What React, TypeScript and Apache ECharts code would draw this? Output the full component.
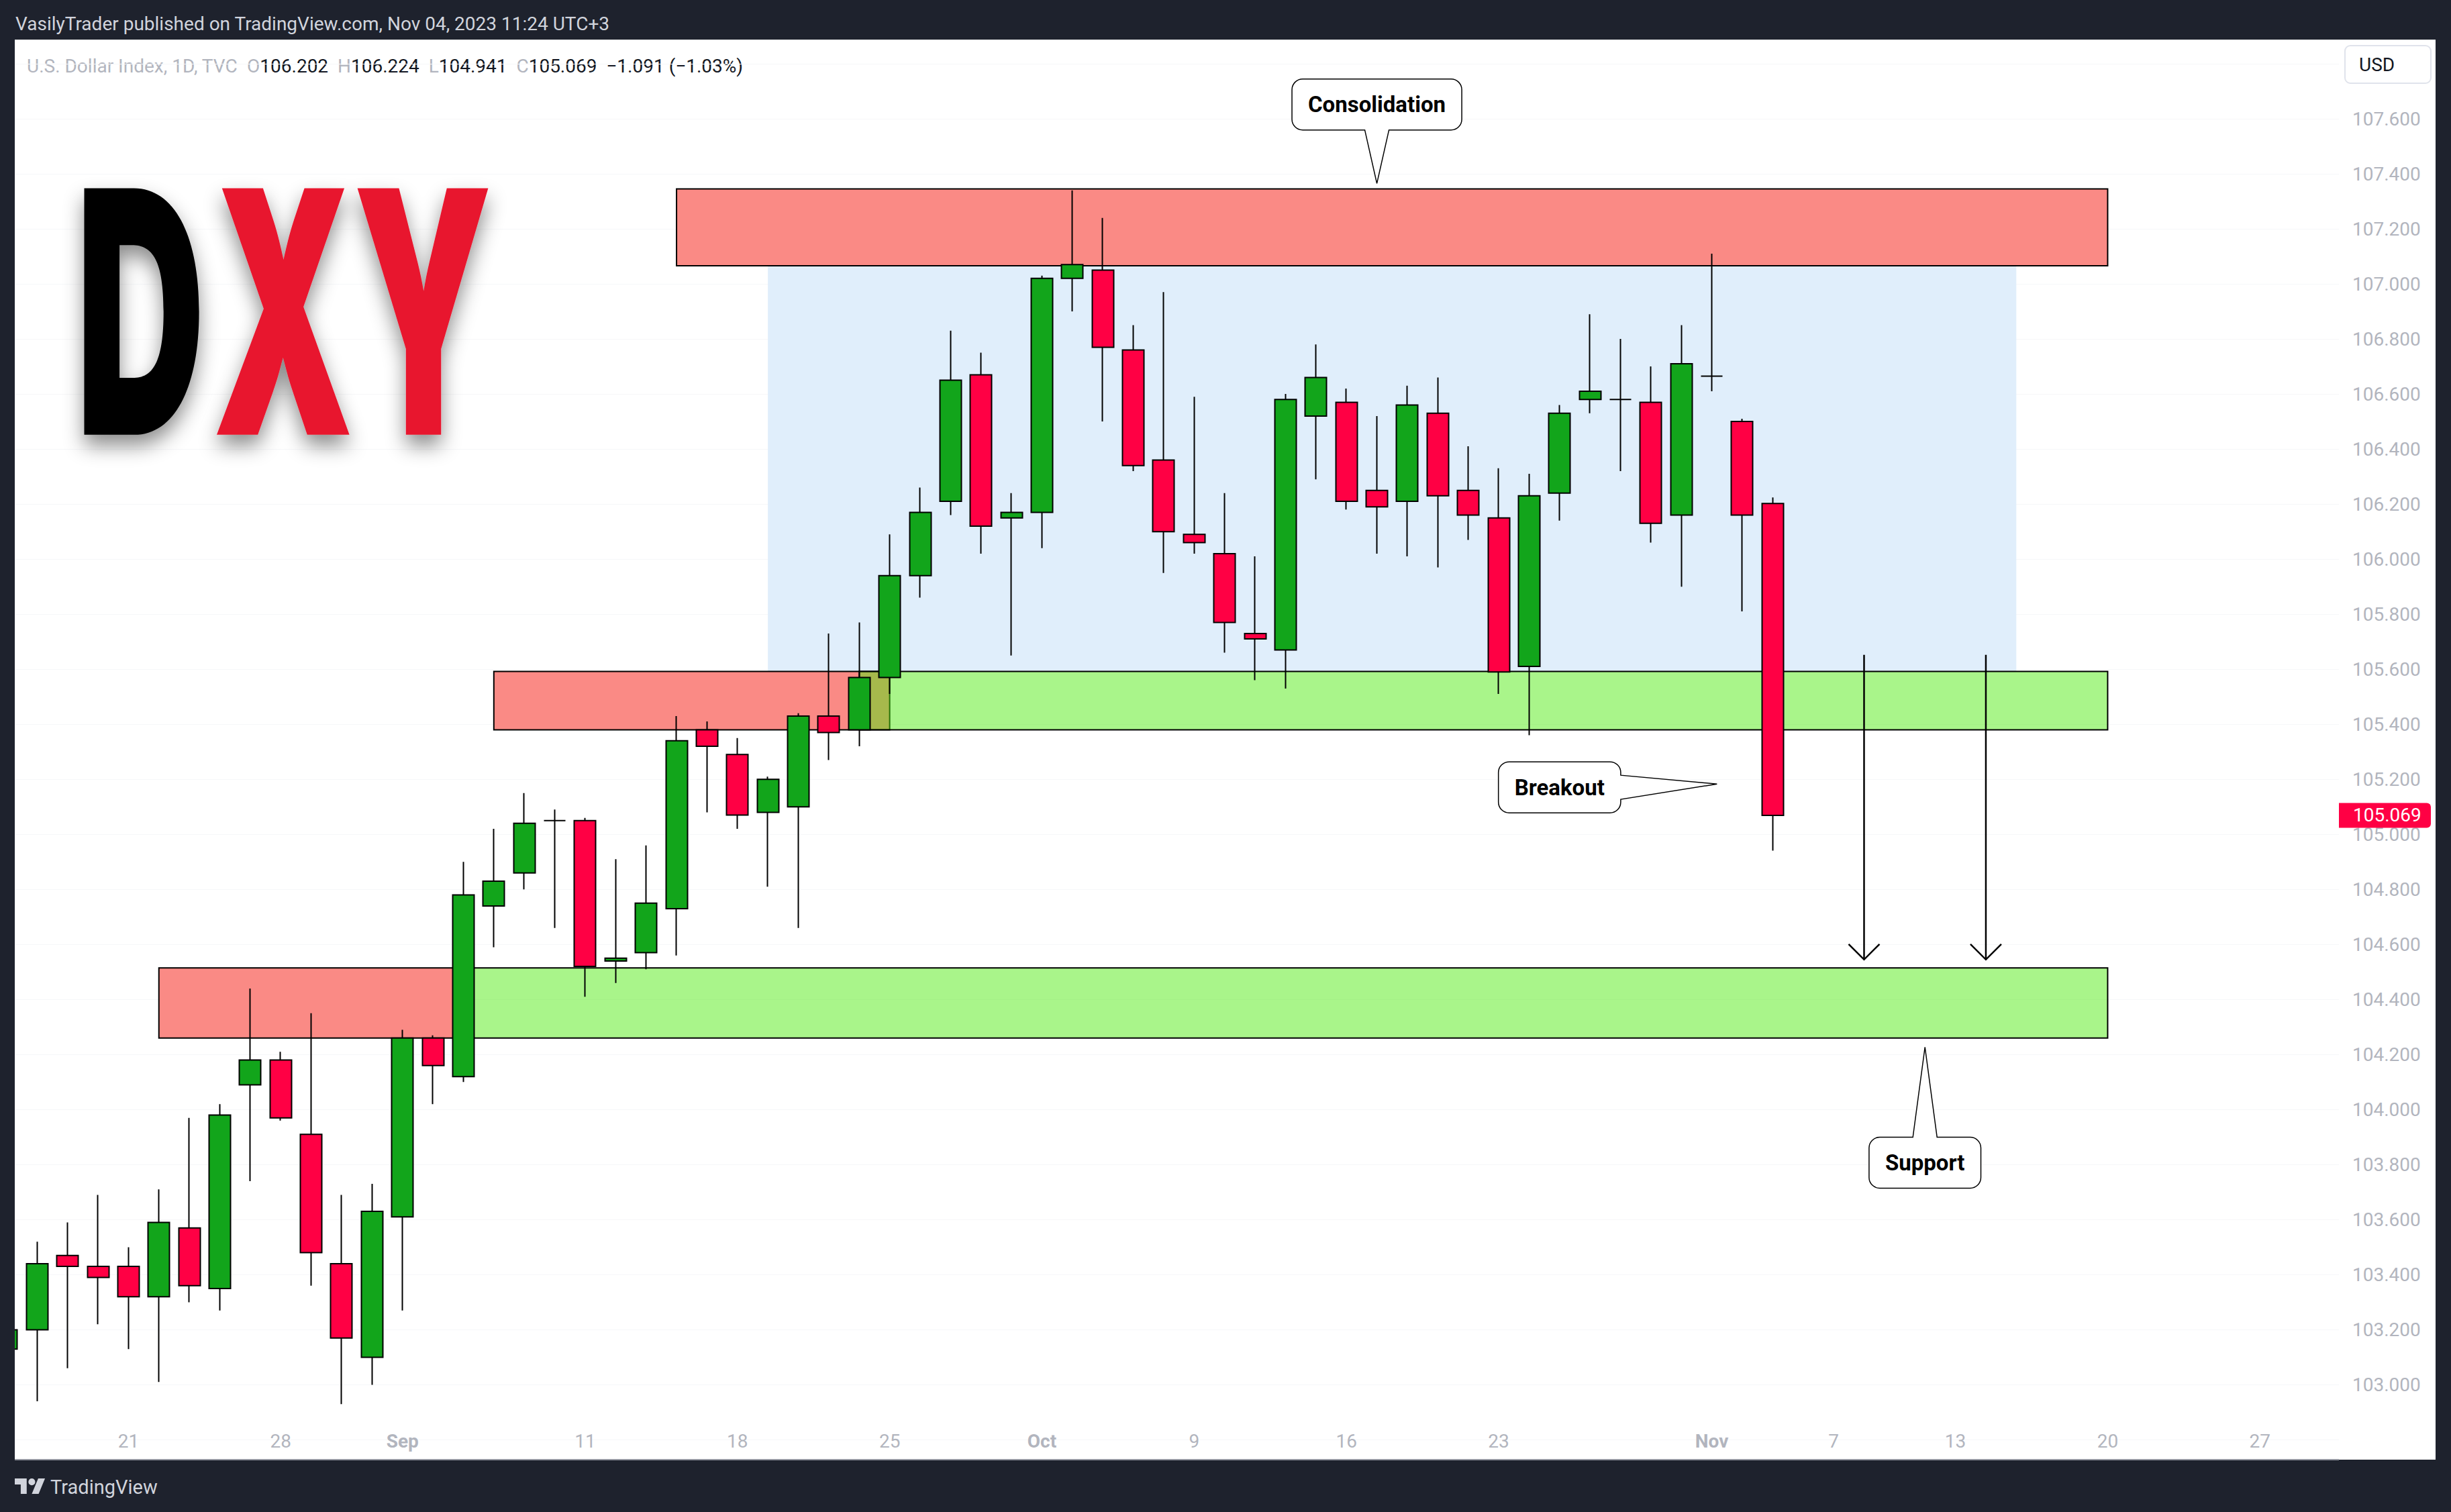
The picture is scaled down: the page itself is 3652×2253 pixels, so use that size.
import React, { useEffect, useRef } from "react";
import * as echarts from "echarts";

const W = 3652;
const H = 2253;
const BG = "#1e222d";
const UP = "#12a51b";
const DOWN = "#ff0044";

// ---------- data ----------
const dates = [
  "2023-08-15", "2023-08-16", "2023-08-17", "2023-08-18", "2023-08-21", "2023-08-22", "2023-08-23", "2023-08-24", "2023-08-25",
  "2023-08-28", "2023-08-29", "2023-08-30", "2023-08-31", "2023-09-01",
  "2023-09-04", "2023-09-05", "2023-09-06", "2023-09-07", "2023-09-08",
  "2023-09-11", "2023-09-12", "2023-09-13", "2023-09-14", "2023-09-15",
  "2023-09-18", "2023-09-19", "2023-09-20", "2023-09-21", "2023-09-22",
  "2023-09-25", "2023-09-26", "2023-09-27", "2023-09-28", "2023-09-29",
  "2023-10-02", "2023-10-03", "2023-10-04", "2023-10-05", "2023-10-06",
  "2023-10-09", "2023-10-10", "2023-10-11", "2023-10-12", "2023-10-13",
  "2023-10-16", "2023-10-17", "2023-10-18", "2023-10-19", "2023-10-20",
  "2023-10-23", "2023-10-24", "2023-10-25", "2023-10-26", "2023-10-27",
  "2023-10-30", "2023-10-31", "2023-11-01", "2023-11-02", "2023-11-03",
];

const opens = [
  103.13, 103.2, 103.47, 103.43, 103.43, 103.32, 103.57, 103.35, 104.09,
  104.18, 103.91, 103.44, 103.1, 103.61,
  104.26, 104.12, 104.74, 104.86, 105.05,
  105.05, 104.54, 104.57, 104.73, 105.38,
  105.29, 105.08, 105.1, 105.43, 105.38,
  105.57, 105.94, 106.21, 106.67, 106.15,
  106.17, 107.02, 107.05, 106.76, 106.36,
  106.09, 106.02, 105.73, 105.67, 106.52,
  106.57, 106.25, 106.21, 106.53, 106.25,
  106.15, 105.61, 106.24, 106.58, 106.58,
  106.57, 106.16, 106.665, 106.5, 106.202,
];
const highs = [
  103.3, 103.52, 103.59, 103.69, 103.5, 103.71, 103.97, 104.02, 104.44,
  104.21, 104.35, 103.69, 103.73, 104.29,
  104.27, 104.9, 105.02, 105.15, 105.09,
  105.06, 104.91, 104.96, 105.43, 105.41,
  105.35, 105.21, 105.44, 105.73, 105.77,
  106.09, 106.26, 106.83, 106.75, 106.24,
  107.03, 107.34, 107.24, 106.85, 106.97,
  106.59, 106.24, 106.01, 106.6, 106.78,
  106.62, 106.52, 106.63, 106.66, 106.41,
  106.33, 106.31, 106.56, 106.89, 106.8,
  106.7, 106.85, 107.11, 106.51, 106.224,
];
const lows = [
  102.98, 102.94, 103.06, 103.22, 103.13, 103.01, 103.3, 103.27, 103.74,
  103.96, 103.36, 102.93, 103.0, 103.27,
  104.02, 104.1, 104.59, 104.8, 104.66,
  104.41, 104.46, 104.51, 104.56, 105.08,
  105.02, 104.81, 104.66, 105.27, 105.32,
  105.51, 105.86, 106.16, 106.02, 105.65,
  106.04, 106.9, 106.5, 106.32, 105.95,
  106.02, 105.66, 105.56, 105.53, 106.29,
  106.18, 106.02, 106.01, 105.97, 106.07,
  105.51, 105.36, 106.14, 106.53, 106.32,
  106.06, 105.9, 106.61, 105.81, 104.941,
];
const closes = [
  103.2, 103.44, 103.43, 103.39, 103.32, 103.59, 103.36, 103.98, 104.18,
  103.97, 103.48, 103.17, 103.63, 104.26,
  104.16, 104.78, 104.83, 105.04, 105.05,
  104.52, 104.55, 104.75, 105.34, 105.32,
  105.07, 105.2, 105.43, 105.37, 105.57,
  105.94, 106.17, 106.65, 106.12, 106.17,
  107.02, 107.07, 106.77, 106.34, 106.1,
  106.06, 105.77, 105.71, 106.58, 106.66,
  106.21, 106.19, 106.56, 106.23, 106.16,
  105.59, 106.23, 106.53, 106.61, 106.58,
  106.13, 106.71, 106.665, 106.16, 105.069,
];

// time-axis labels (trading-day index -> label)
const tickIndex = [4, 9, 13, 19, 24, 29, 34, 39, 44, 49, 56, 60, 64, 69, 74];
const tickText = ["21", "28", "Sep", "11", "18", "25", "Oct", "9", "16", "23", "Nov", "7", "13", "20", "27"];
const monthTicks = ["Sep", "Oct", "Nov"];

// zones (drawn rectangles), trading-day index & price
const zoneFrom = [25, 22, 16, 5, 28, 15];
const zoneTo = [66, 69, 29, 15, 69, 69];
const zoneLow = [105.592, 107.066, 105.38, 104.26, 105.38, 104.26];
const zoneHigh = [107.066, 107.345, 105.592, 104.515, 105.592, 104.515];
const zoneKind = ["range", "resistance", "resistance", "resistance", "support", "support"];

// callouts
const calloutText = ["Consolidation", "Breakout", "Support"];
const calloutTipIndex = [45, 56.17, 63];
const calloutTipPrice = [107.365, 105.183, 104.227];
const calloutBoxIndex = [45, 51, 63];
const calloutBoxPrice = [107.652, 105.171, 103.807];

// projection arrows
const arrowIndex = [61, 65];
const arrowFrom = [105.652, 105.652];
const arrowTo = [104.545, 104.545];

// ---------- layout constants ----------
const PANEL = { x: 22, y: 59, w: 3607, h: 2116 };
const PLOT_RIGHT = 3485;
const BAR0_X = 9.9;
const BAR_STEP = 45.37;
const X_MIN = (PANEL.x - BAR0_X) / BAR_STEP;
const X_MAX = (PLOT_RIGHT - BAR0_X) / BAR_STEP;
const Y_MIN = 102.8;
const Y_MAX = 107.8;
const GRID_TOP = 94.98;
const GRID_BOTTOM_Y = 2145.48;

const TV_LOGO_D =
  "M14 22H7V11H0V4h14v18z M28 22h-8l7.5-18h8L28 22z M24 8a4 4 0 1 1-8 0a4 4 0 0 1 8 0z";
echarts.graphic.registerShape("tvlogo", echarts.graphic.extendPath(TV_LOGO_D, {}) as any);

const AXIS_FONT = "Roboto";
const AXIS_COLOR = "#b2b5be";

let measureCtx: CanvasRenderingContext2D | null = null;
function textWidth(t: string, font: string) {
  if (!measureCtx) measureCtx = document.createElement("canvas").getContext("2d");
  if (!measureCtx) return t.length * 18;
  measureCtx.font = font;
  return measureCtx.measureText(t).width;
}

const ZONE_STYLE: Record<string, { fill: string; stroke: string | null }> = {
  range: { fill: "#e0eefb", stroke: null },
  resistance: { fill: "#fa8a85", stroke: "#000" },
  support: { fill: "rgba(80,235,16,0.49)", stroke: "#000" },
};

function buildOption() {
  const last = closes.length - 1;
  const chg = closes[last] - closes[last - 1];
  const pct = (chg / closes[last - 1]) * 100;
  const chgText = `${chg < 0 ? "\u2212" : "+"}${Math.abs(chg).toFixed(3)} (${pct < 0 ? "\u2212" : "+"}${Math.abs(pct).toFixed(2)}%)`;

  const legend =
    `{g|U.S. Dollar Index, 1D, TVC}  {g|O}{v|${opens[last].toFixed(3)}}  {g|H}{v|${highs[last].toFixed(3)}}  ` +
    `{g|L}{v|${lows[last].toFixed(3)}}  {g|C}{v|${closes[last].toFixed(3)}}  {v|${chgText}}`;

  const candleData = opens.map((o, i) => [i, o, closes[i], lows[i], highs[i]]);
  const zoneData = zoneFrom.map((f, i) => [f, zoneTo[i], zoneLow[i], zoneHigh[i], i]);
  const calloutData = calloutText.map((_, i) => [calloutTipIndex[i], calloutTipPrice[i], calloutBoxIndex[i], calloutBoxPrice[i], i]);
  const arrowData = arrowIndex.map((x, i) => [x, arrowFrom[i], arrowTo[i]]);

  const calloutFont = "bold 33px Roboto";
  const dxyStyle = {
    fontFamily: "Inter",
    fontWeight: 900,
    fontSize: 505,
    align: "left",
    verticalAlign: "middle",
    textShadowColor: "rgba(0,0,0,0.45)",
    textShadowBlur: 30,
    textShadowOffsetY: 16,
  };

  return {
    animation: false,
    backgroundColor: BG,
    grid: {
      left: PANEL.x,
      right: W - PLOT_RIGHT,
      top: GRID_TOP,
      bottom: H - GRID_BOTTOM_Y,
      containLabel: false,
    },
    xAxis: {
      type: "value",
      min: X_MIN,
      max: X_MAX,
      axisLine: { show: false },
      axisTick: { show: false, customValues: tickIndex },
      splitLine: { show: false },
      axisLabel: {
        customValues: tickIndex,
        margin: 2,
        verticalAlign: "middle",
        color: AXIS_COLOR,
        fontFamily: AXIS_FONT,
        fontSize: 28,
        formatter: (v: number) => {
          const k = tickIndex.indexOf(Math.round(v));
          if (k < 0) return "";
          const t = tickText[k];
          return monthTicks.includes(t) ? `{m|${t}}` : `{d|${t}}`;
        },
        rich: {
          m: { fontWeight: "bold", color: AXIS_COLOR, fontFamily: AXIS_FONT, fontSize: 28 },
          d: { color: AXIS_COLOR, fontFamily: AXIS_FONT, fontSize: 28 },
        },
      },
    },
    yAxis: {
      type: "value",
      position: "right",
      min: Y_MIN,
      max: Y_MAX,
      interval: 0.2,
      axisLine: { show: false },
      axisTick: { show: false },
      splitLine: { show: true, lineStyle: { color: "#f6f7f9", width: 1 } },
      axisLabel: {
        showMinLabel: false,
        showMaxLabel: false,
        margin: 20,
        color: AXIS_COLOR,
        fontFamily: AXIS_FONT,
        fontSize: 28,
        formatter: (v: number) => v.toFixed(3),
      },
    },
    series: [
      {
        type: "custom",
        name: "zones",
        z: 1,
        clip: false,
        encode: { x: [0, 1], y: [2, 3] },
        data: zoneData,
        renderItem: (_p: any, api: any) => {
          const kind = zoneKind[api.value(4)];
          const s = ZONE_STYLE[kind];
          const a = api.coord([api.value(0), api.value(3)]);
          const b = api.coord([api.value(1), api.value(2)]);
          return {
            type: "rect",
            shape: { x: a[0], y: a[1], width: b[0] - a[0], height: b[1] - a[1] },
            style: { fill: s.fill, stroke: s.stroke || "none", lineWidth: s.stroke ? 2 : 0 },
          };
        },
      },
      {
        type: "candlestick",
        name: "DXY",
        z: 2,
        data: candleData,
        encode: { x: 0, y: [1, 2, 3, 4] },
        barWidth: 32.5,
        itemStyle: {
          color: UP,
          color0: DOWN,
          borderColor: "#000",
          borderColor0: "#000",
          borderColorDoji: "#000",
          borderWidth: 2,
        },
      },
      {
        type: "custom",
        name: "arrows",
        z: 3,
        clip: false,
        encode: { x: 0, y: [1, 2] },
        data: arrowData,
        renderItem: (_p: any, api: any) => {
          const t = api.coord([api.value(0), api.value(1)]);
          const b = api.coord([api.value(0), api.value(2)]);
          return {
            type: "group",
            children: [
              { type: "line", shape: { x1: t[0], y1: t[1], x2: b[0], y2: b[1] }, style: { stroke: "#000", lineWidth: 2.5 } },
              {
                type: "polyline",
                shape: { points: [[b[0] - 23, b[1] - 23], [b[0], b[1]], [b[0] + 23, b[1] - 23]] },
                style: { stroke: "#000", lineWidth: 2.5, fill: "none" },
              },
            ],
          };
        },
      },
      {
        type: "custom",
        name: "callouts",
        z: 4,
        clip: false,
        encode: { x: [0, 2], y: [1, 3] },
        data: calloutData,
        renderItem: (_p: any, api: any) => {
          const text = calloutText[api.value(4)];
          const tip = api.coord([api.value(0), api.value(1)]);
          const c = api.coord([api.value(2), api.value(3)]);
          const w = textWidth(text, calloutFont) + 48;
          const h = 76;
          const r = 16;
          const half = 18;
          const x0 = c[0] - w / 2, x1 = c[0] + w / 2, y0 = c[1] - h / 2, y1 = c[1] + h / 2;
          const arc = (x: number, y: number) => `A${r} ${r} 0 0 1 ${x} ${y}`;
          let d: string;
          if (tip[1] > y1) {
            d = `M${x0 + r} ${y0} H${x1 - r} ${arc(x1, y0 + r)} V${y1 - r} ${arc(x1 - r, y1)} H${c[0] + half} L${tip[0]} ${tip[1]} L${c[0] - half} ${y1} H${x0 + r} ${arc(x0, y1 - r)} V${y0 + r} ${arc(x0 + r, y0)} Z`;
          } else if (tip[1] < y0) {
            d = `M${x0 + r} ${y0} H${c[0] - half} L${tip[0]} ${tip[1]} L${c[0] + half} ${y0} H${x1 - r} ${arc(x1, y0 + r)} V${y1 - r} ${arc(x1 - r, y1)} H${x0 + r} ${arc(x0, y1 - r)} V${y0 + r} ${arc(x0 + r, y0)} Z`;
          } else {
            d = `M${x0 + r} ${y0} H${x1 - r} ${arc(x1, y0 + r)} V${c[1] - half} L${tip[0]} ${tip[1]} L${x1} ${c[1] + half} V${y1 - r} ${arc(x1 - r, y1)} H${x0 + r} ${arc(x0, y1 - r)} V${y0 + r} ${arc(x0 + r, y0)} Z`;
          }
          return {
            type: "group",
            children: [
              { type: "path", shape: { pathData: d }, style: { fill: "#fff", stroke: "#000", lineWidth: 1.5 } },
              {
                type: "text",
                style: {
                  x: c[0],
                  y: c[1],
                  text,
                  fill: "#000",
                  fontFamily: "Roboto",
                  fontWeight: "bold",
                  fontSize: 33,
                  align: "center",
                  verticalAlign: "middle",
                  textAlign: "center",
                  textVerticalAlign: "middle",
                },
              },
            ],
          };
        },
      },
      {
        type: "custom",
        name: "lastPrice",
        z: 5,
        clip: false,
        encode: { x: 0, y: 1 },
        data: [[last, closes[last]]],
        renderItem: (p: any, api: any) => {
          const pt = api.coord([api.value(0), api.value(1)]);
          const x0 = p.coordSys.x + p.coordSys.width;
          return {
            type: "group",
            children: [
              { type: "rect", shape: { x: x0, y: pt[1] - 18.5, width: 137, height: 37, r: [0, 6, 6, 0] }, style: { fill: DOWN } },
              {
                type: "text",
                style: {
                  x: x0 + 21,
                  y: pt[1],
                  text: closes[last].toFixed(3),
                  fill: "#fff",
                  fontFamily: AXIS_FONT,
                  fontSize: 28,
                  align: "left",
                  verticalAlign: "middle",
                  textAlign: "left",
                  textVerticalAlign: "middle",
                },
              },
            ],
          };
        },
      },
    ],
    graphic: [
      { type: "rect", z: -10, shape: { x: PANEL.x, y: PANEL.y, width: PANEL.w, height: PANEL.h }, style: { fill: "#ffffff" } },
      // dark page margin covering the partially visible first candle
      { type: "rect", z: 100, shape: { x: 0, y: PANEL.y - 2, width: PANEL.x, height: PANEL.h + 4 }, style: { fill: BG } },
      { type: "line", z: 10, shape: { x1: PANEL.x, y1: PANEL.y + PANEL.h, x2: PLOT_RIGHT, y2: PANEL.y + PANEL.h }, style: { stroke: "#9598a1", lineWidth: 2 } },
      {
        type: "text",
        x: 23,
        y: 35,
        style: {
          text: "VasilyTrader published on TradingView.com, Nov 04, 2023 11:24 UTC+3",
          fill: "#d1d4dc",
          fontFamily: "Roboto",
          fontSize: 28,
          align: "left",
          verticalAlign: "middle",
        },
      },
      {
        type: "text",
        x: 40,
        y: 98,
        style: {
          text: legend,
          fontFamily: "Roboto",
          fontSize: 28,
          align: "left",
          verticalAlign: "middle",
          rich: {
            g: { fill: "#b2b5be", fontFamily: "Roboto", fontSize: 28 },
            v: { fill: "#131722", fontFamily: "Roboto", fontSize: 28 },
          },
        },
      },
      { type: "rect", shape: { x: 3494, y: 68, width: 128, height: 56, r: 8 }, style: { fill: "#fff", stroke: "#e0e3eb", lineWidth: 2 } },
      {
        type: "text",
        x: 3515,
        y: 96,
        style: { text: "USD", fill: "#131722", fontFamily: "Roboto", fontSize: 28, align: "left", verticalAlign: "middle" },
      },
      {
        type: "text",
        x: 113,
        y: 464,
        scaleX: 0.528,
        z: 1,
        style: { ...dxyStyle, text: "D", fill: "#000" },
      },
      {
        type: "text",
        x: 317,
        y: 464,
        scaleX: 0.528,
        z: 1,
        style: { ...dxyStyle, text: "XY", fill: "#e8182f" },
      },
      { type: "tvlogo", x: 22, y: 2198, scaleX: 1.27, scaleY: 1.27, style: { fill: "#d1d4dc" } },
      {
        type: "text",
        x: 75,
        y: 2216,
        style: { text: "TradingView", fill: "#d1d4dc", fontFamily: "Roboto", fontSize: 29, align: "left", verticalAlign: "middle" },
      },
    ],
  };
}

export default function App() {
  const ref = useRef<HTMLDivElement>(null);
  useEffect(() => {
    document.body.style.margin = "0";
    document.body.style.background = BG;
    const chart = echarts.init(ref.current!, null, { renderer: "svg", width: W, height: H });
    chart.setOption(buildOption() as any);
    return () => chart.dispose();
  }, []);
  return <div ref={ref} style={{ position: "absolute", left: 0, top: 0, width: W, height: H }} />;
}
